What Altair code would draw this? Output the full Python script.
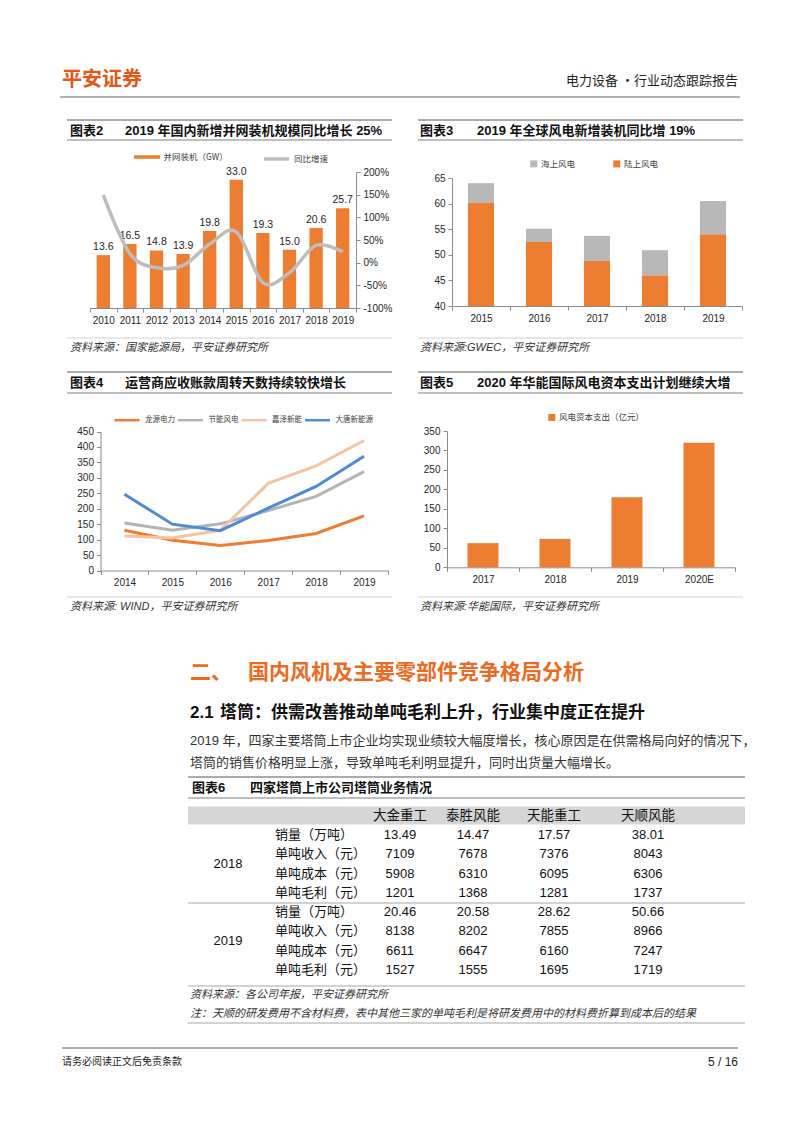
import altair as alt
import pandas as pd

# ---------------- data ----------------
years2 = ['2010', '2011', '2012', '2013', '2014', '2015', '2016', '2017', '2018', '2019']
gw2 = [13.6, 16.5, 14.8, 13.9, 19.8, 33.0, 19.3, 15.0, 20.6, 25.7]
yoy2 = [149, 20, -11, -6, 41, 68, -44, -22, 38, 24]

years3 = ['2015', '2016', '2017', '2018', '2019']
onshore3 = [60.1, 52.5, 48.8, 46.0, 54.0]
offshore3 = [3.9, 2.6, 4.9, 4.9, 6.5]

years4 = ['2014', '2015', '2016', '2017', '2018', '2019']
series4 = ['龙源电力', '节能风电', '嘉泽新能', '大唐新能源']
longyuan4 = [130, 98, 81, 97, 120, 177]
jieneng4 = [154, 130, 151, 194, 240, 320]
jiaze4 = [112, 105, 130, 282, 339, 421]
datang4 = [247, 150, 129, 202, 272, 370]

years5 = ['2017', '2018', '2019', '2020E']
capex5 = [62, 73, 180, 320]

companies6 = ['大金重工', '泰胜风能', '天能重工', '天顺风能']
metrics6 = ['销量（万吨）', '单吨收入（元）', '单吨成本（元）', '单吨毛利（元）']
tyears6 = ['2018', '2019']
tbl2018 = [['13.49', '14.47', '17.57', '38.01'],
           ['7109', '7678', '7376', '8043'],
           ['5908', '6310', '6095', '6306'],
           ['1201', '1368', '1281', '1737']]
tbl2019 = [['20.46', '20.58', '28.62', '50.66'],
           ['8138', '8202', '7855', '8966'],
           ['6611', '6647', '6160', '7247'],
           ['1527', '1555', '1695', '1719']]

# page texts
BRAND = '平安证券'
HEADR = '电力设备 ·行业动态跟踪报告'
T2 = '2019 年国内新增并网装机规模同比增长 25%'
T3 = '2019 年全球风电新增装机同比增 19%'
T4 = '运营商应收账款周转天数持续较快增长'
T5 = '2020 年华能国际风电资本支出计划继续大增'
T6 = '四家塔筒上市公司塔筒业务情况'
S2 = '资料来源：国家能源局，平安证券研究所'
S3 = '资料来源:GWEC，平安证券研究所'
S4 = '资料来源: WIND，平安证券研究所'
S5 = '资料来源:华能国际，平安证券研究所'
S6 = '资料来源：各公司年报，平安证券研究所'
N6 = '注：天顺的研发费用不含材料费，表中其他三家的单吨毛利是将研发费用中的材料费折算到成本后的结果'
SEC = '国内风机及主要零部件竞争格局分析'
SUB = '塔筒：供需改善推动单吨毛利上升，行业集中度正在提升'
P1 = '2019 年，四家主要塔筒上市企业均实现业绩较大幅度增长，核心原因是在供需格局向好的情况下，'
P2 = '塔筒的销售价格明显上涨，导致单吨毛利明显提升，同时出货量大幅增长。'
FOOT = '请务必阅读正文后免责条款'
PAGE = '5 / 16'

# ---------------- style ----------------
ORANGE = '#ED7D31'
GRAY = '#BDBDBD'
CJK = 'Noto Sans CJK SC'
MIX = 'Liberation Sans, Noto Sans CJK SC'
LAT = 'Liberation Sans'
W, H = 784, 1115
OFF = 8


def px(v):
    return v - OFF


layers = []


def text(s, x, y, size=12, weight='normal', color='#222222', align='left', font=MIX, style='normal'):
    layers.append(alt.Chart(alt.Data(values=[{'t': s}])).mark_text(
        align=align, baseline='middle', fontSize=size, fontWeight=weight, color=color,
        font=font, fontStyle=style
    ).encode(x=alt.value(px(x)), y=alt.value(px(y)), text='t:N'))


def hrule(x1, x2, y, color='#999999', w=1.0):
    layers.append(alt.Chart(alt.Data(values=[{}])).mark_rule(color=color, strokeWidth=w).encode(
        x=alt.value(px(x1)), x2=alt.value(px(x2)), y=alt.value(px(y))))


def box(x1, x2, y1, y2, color):
    layers.append(alt.Chart(alt.Data(values=[{}])).mark_rect(color=color).encode(
        x=alt.value(px(x1)), x2=alt.value(px(x2)), y=alt.value(px(y1)), y2=alt.value(px(y2))))


def legend(x, y, **kw):
    base = dict(orient='none', legendX=px(x), legendY=px(y), direction='horizontal', title=None,
                labelFont=CJK, labelFontSize=8.5, labelColor='#404040', padding=0)
    base.update(kw)
    return alt.Legend(**base)


def xband(lo, hi, yaxis_px):
    return dict(scale=alt.Scale(type='band', range=[px(lo), px(hi)], paddingInner=0, paddingOuter=0),
                axis=alt.Axis(orient='bottom', offset=px(yaxis_px) - H, tickBand='extent',
                              labelAngle=0, title=None))


# ---------------- page decoration ----------------
text(BRAND, 62, 80, size=20, weight='bold', color='#E95513', font=CJK)
text(HEADR, 738, 81, size=13, color='#222222', align='right', font=CJK)
hrule(60, 740, 97, '#666666', 1.2)

for (xa, xb) in [(67, 392), (418, 743)]:
    hrule(xa, xb, 120, '#ABABAB', 2)
    hrule(xa, xb, 140, '#7F7F7F', 1)
    hrule(xa, xb, 338, '#D0D0D0', 1)
    hrule(xa, xb, 372, '#ABABAB', 2)
    hrule(xa, xb, 393, '#7F7F7F', 1)
    hrule(xa, xb, 597, '#D0D0D0', 1)

text('图表2', 70, 131, size=13, weight='bold', color='#111111')
text(T2, 125, 131, size=13, weight='bold', color='#111111')
text('图表3', 420, 131, size=13, weight='bold', color='#111111')
text(T3, 477, 131, size=13, weight='bold', color='#111111')
text('图表4', 70, 383, size=13, weight='bold', color='#111111')
text(T4, 125, 383, size=13, weight='bold', color='#111111')
text('图表5', 420, 383, size=13, weight='bold', color='#111111')
text(T5, 477, 383, size=13, weight='bold', color='#111111')

text(S2, 70, 348, size=11, color='#333333', style='italic')
text(S3, 420, 348, size=11, color='#333333', style='italic')
text(S4, 70, 607, size=11, color='#333333', style='italic')
text(S5, 420, 607, size=11, color='#333333', style='italic')

text('二、', 190, 673, size=21, weight='bold', color='#EC6A22', font=CJK)
text(SEC, 248, 673, size=21, weight='bold', color='#EC6A22', font=CJK)
text('2.1', 190, 713, size=17, weight='bold', color='#111111', font=LAT)
text(SUB, 220, 713, size=17, weight='bold', color='#111111', font=CJK)
text(P1, 190, 741, size=13, color='#333333')
text(P2, 190, 763, size=13, color='#333333')

hrule(188, 745, 777, '#ABABAB', 2)
text('图表6', 192, 788, size=13, weight='bold', color='#111111')
text(T6, 250, 788, size=13, weight='bold', color='#111111')
hrule(188, 745, 798, '#7F7F7F', 1)
box(188, 745, 806.5, 824.5, '#D6D6D6')
hrule(188, 745, 903, '#A6A6A6', 1)
hrule(188, 745, 986, '#A6A6A6', 1)
text(S6, 190, 995, size=11, color='#333333', style='italic')
text(N6, 190, 1014, size=11, color='#333333', style='italic')
hrule(188, 745, 1023, '#A6A6A6', 1)

hrule(62, 738, 1048, '#555555', 1)
text(FOOT, 62, 1062, size=10, color='#222222', font=CJK)
text(PAGE, 738, 1062, size=12, color='#222222', align='right', font=LAT)

# ---------------- chart 2 ----------------
d2 = pd.DataFrame({'year': years2, 'gw': gw2, 'yoy': yoy2})
x2 = alt.X('year:N', sort=years2, **xband(90, 356, 308))
y2s = alt.Scale(domain=[0, 35], range=[px(308), px(172)], nice=False)
bars2 = alt.Chart(d2).transform_calculate(s="'并网装机（GW）'").mark_bar(
    width=alt.RelativeBandSize(0.5)).encode(
    x=x2,
    y=alt.Y('gw:Q', scale=y2s, axis=alt.Axis(orient='left', offset=-px(90),
                                              values=list(range(0, 36, 5)), title=None)),
    fill=alt.Fill('s:N', scale=alt.Scale(domain=['并网装机（GW）'], range=[ORANGE]),
                  legend=legend(140.5, 150.5, symbolType='M-2,-0.27H2V0.27H-2Z', symbolSize=169,
                                symbolStrokeWidth=0, labelOffset=10)))
lab2 = alt.Chart(d2).mark_text(baseline='bottom', dy=-3, fontSize=10.5, font=LAT, color='#262626').encode(
    x=x2, y=alt.Y('gw:Q', scale=y2s, axis=None), text=alt.Text('gw:Q', format='.1f'))
line2 = alt.Chart(d2).transform_calculate(t="'同比增速'").mark_line(
    interpolate='cardinal', strokeWidth=3.5).encode(
    x=x2,
    y=alt.Y('yoy:Q', scale=alt.Scale(domain=[-100, 200], range=[px(308), px(172)], nice=False, zero=False),
            axis=alt.Axis(orient='right', offset=px(356) - W, values=[-100, -50, 0, 50, 100, 150, 200],
                          labelExpr="datum.value + '%'", title=None)),
    stroke=alt.Stroke('t:N', scale=alt.Scale(domain=['同比增速'], range=[GRAY]),
                      legend=legend(262, 144.5, symbolType='stroke', symbolSize=625,
                                    symbolStrokeWidth=3.5, labelOffset=3)))
chart2 = alt.layer(alt.layer(bars2, lab2), line2).resolve_scale(y='independent')

# ---------------- chart 3 ----------------
rows3 = []
for yr, on, off in zip(years3, onshore3, offshore3):
    rows3.append({'year': yr, 'type': '陆上风电', 'lo': 40, 'hi': on})
    rows3.append({'year': yr, 'type': '海上风电', 'lo': on, 'hi': round(on + off, 2)})
chart3 = alt.Chart(pd.DataFrame(rows3)).mark_bar(width=alt.RelativeBandSize(0.45)).encode(
    x=alt.X('year:N', sort=years3, **xband(452, 742, 306)),
    y=alt.Y('hi:Q', scale=alt.Scale(domain=[40, 65], range=[px(306), px(178)], nice=False, zero=False),
            axis=alt.Axis(orient='left', offset=-px(452), values=[40, 45, 50, 55, 60, 65], title=None)),
    y2='lo:Q',
    fill=alt.Fill('type:N', scale=alt.Scale(domain=['海上风电', '陆上风电'], range=['#B8B8B8', ORANGE]),
                  legend=legend(529.5, 159.5, symbolType='square', symbolSize=49, symbolStrokeWidth=0,
                                labelOffset=3, columnPadding=37)))

# ---------------- chart 4 ----------------
rows4 = []
for name, vals in zip(series4, [longyuan4, jieneng4, jiaze4, datang4]):
    for yr, v in zip(years4, vals):
        rows4.append({'year': yr, 'series': name, 'v': v})
chart4 = alt.Chart(pd.DataFrame(rows4)).mark_line(strokeWidth=3).encode(
    x=alt.X('year:N', sort=years4, **xband(100.5, 388, 570.5)),
    y=alt.Y('v:Q', scale=alt.Scale(domain=[0, 450], range=[px(570.5), px(431.5)], nice=False),
            axis=alt.Axis(orient='left', offset=-px(100.5), values=list(range(0, 451, 50)), title=None)),
    stroke=alt.Stroke('series:N', sort=series4,
                      scale=alt.Scale(domain=series4, range=[ORANGE, '#B4B4B4', '#F7C3A2', '#4E8AD9']),
                      legend=legend(113, 406.2, symbolType='stroke', symbolSize=625, symbolStrokeWidth=2.5,
                                    labelFontSize=7.5, labelOffset=4, columnPadding=-2.5)))

# ---------------- chart 5 ----------------
d5 = pd.DataFrame({'year': years5, 'capex': capex5})
chart5 = alt.Chart(d5).transform_calculate(s="'风电资本支出（亿元）'").mark_bar(
    width=alt.RelativeBandSize(0.43)).encode(
    x=alt.X('year:N', sort=years5, **xband(447, 735, 567.3)),
    y=alt.Y('capex:Q', scale=alt.Scale(domain=[0, 350], range=[px(567.3), px(431)], nice=False),
            axis=alt.Axis(orient='left', offset=-px(447), values=list(range(0, 351, 50)), title=None)),
    fill=alt.Fill('s:N', scale=alt.Scale(domain=['风电资本支出（亿元）'], range=[ORANGE]),
                  legend=legend(547.5, 413.2, symbolType='square', symbolSize=49, symbolStrokeWidth=0,
                                labelOffset=3)))

# ---------------- table 6 ----------------
cells, rlabels, heads, ylabels = [], [], [], []
for yi, tb in enumerate([tbl2018, tbl2019]):
    ylabels.append({'ri': yi * 4 + 1.5, 'yr': tyears6[yi]})
    for mi, rowvals in enumerate(tb):
        rlabels.append({'ri': yi * 4 + mi, 'm': metrics6[mi]})
        for ci, v in enumerate(rowvals):
            cells.append({'ri': yi * 4 + mi, 'ci': ci, 'v': v})
for ci, c in enumerate(companies6):
    heads.append({'ri': -1, 'ci': ci, 'c': c})

tx = alt.X('ci:Q', scale=alt.Scale(domain=[0, 1, 2, 3], range=[px(400), px(473), px(554), px(648)],
                                   nice=False, zero=False), axis=None)
tys = alt.Scale(domain=[-1, 7], range=[px(815.7), px(970)], nice=False, zero=False)
ty = alt.Y('ri:Q', scale=tys, axis=None)
t_head = alt.Chart(pd.DataFrame(heads)).mark_text(fontSize=13.5, font=CJK, color='#111111').encode(
    x=tx, y=ty, text='c:N')
t_cell = alt.Chart(pd.DataFrame(cells)).mark_text(fontSize=13, font=LAT, color='#111111').encode(
    x=tx, y=ty, text='v:N')
t_rlab = alt.Chart(pd.DataFrame(rlabels)).mark_text(fontSize=13, font=CJK, color='#111111', align='left').encode(
    x=alt.value(px(275)), y=ty, text='m:N')
t_ylab = alt.Chart(pd.DataFrame(ylabels)).mark_text(fontSize=13, font=LAT, color='#111111').encode(
    x=alt.value(px(228)), y=ty, text='yr:N')
table6 = alt.layer(t_head, t_cell, t_rlab, t_ylab)

# ---------------- assemble ----------------
chart = alt.layer(*layers, chart2, chart3, chart4, chart5, table6).resolve_scale(
    x='independent', y='independent', fill='independent', stroke='independent'
).resolve_axis(x='independent', y='independent').resolve_legend(
    fill='independent', stroke='independent'
).properties(
    width=W, height=H, padding=0, background='white',
    autosize=alt.AutoSizeParams(type='none')
).configure_view(stroke=None).configure_axis(
    grid=False, domainColor='#8C8C8C', tickColor='#8C8C8C', tickSize=4, domainWidth=1,
    labelFont=LAT, labelFontSize=10, labelColor='#262626', labelPadding=3
)

chart.save('out.html', embed_options={'renderer': 'svg', 'actions': False})
